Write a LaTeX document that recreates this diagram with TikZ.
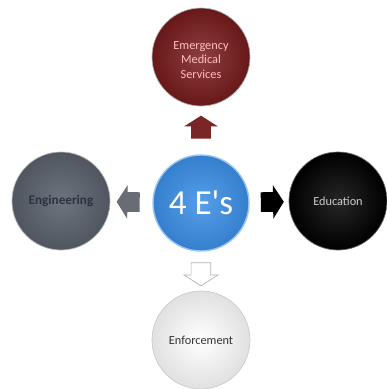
\documentclass[tikz,border=0pt]{standalone}
\usepackage{fontspec}
\setmainfont{Carlito}
\usetikzlibrary{positioning,shapes.arrows}

\definecolor{hubblue}{HTML}{3A8DE4}
\definecolor{emsred}{HTML}{7A1C1C}
\definecolor{enggray}{HTML}{5E6570}
\definecolor{engtext}{HTML}{2B3240}
\definecolor{arrowred}{HTML}{7A2626}
\definecolor{arrowgray}{HTML}{686C73}

\tikzset{
    ebubble/.style={circle, minimum size=1.96cm, inner sep=0pt, align=center,
        font=\fontsize{7}{8}\selectfont, draw=white!70!black, line width=0.4pt},
    blockarrow/.style={single arrow, inner xsep=0pt, inner ysep=0.19cm,
        minimum height=0.46cm, single arrow head extend=0.14cm,
        single arrow tip angle=115, sloped, allow upside down},
}

\begin{document}
\begin{tikzpicture}
    \useasboundingbox (0,0) rectangle (7.74,7.78);

    % the hub
    \node[ebubble, minimum size=1.92cm, inner color=hubblue!85!white,
        outer color=hubblue!90!black, draw=hubblue!50!white, line width=0.8pt,
        text=white, font=\fontsize{20}{22}\selectfont] (hub) at (4.02,3.72)
        {4 E\textquotesingle s};

    % the four E's round it
    \begin{scope}[on grid]
        \node[ebubble, above=2.92cm of hub, inner color=emsred!85!white,
            outer color=emsred!85!black, text=red!25!white] (ems)
            {\\[0pt]Emergency\\Medical\\Services};
        \node[ebubble, left=2.8cm of hub, yshift=0.04cm, inner color=enggray!90!white,
            outer color=enggray!85!black, text=engtext,
            font=\fontsize{7.5}{8}\bfseries] (eng) {Engineering};
        \node[ebubble, right=2.74cm of hub, yshift=0.04cm, inner color=black!85,
            outer color=black, draw=black!60, text=black!20] (edu) {Education};
        \node[ebubble, below=2.74cm of hub, inner color=white,
            outer color=black!12, draw=black!20, text=black!80] (enf) {Enforcement};
    \end{scope}

    % block arrows
    \path (hub) -- node[blockarrow, fill=arrowred] (toEms) {} (ems);
    \path (hub) -- node[blockarrow, fill=arrowgray] (toEng) {} (eng);
    \path (hub) -- node[blockarrow, fill=black] (toEdu) {} (edu);
    \path (hub) -- node[blockarrow, fill=white, draw=black!30] (toEnf) {} (enf);
\end{tikzpicture}
\end{document}
